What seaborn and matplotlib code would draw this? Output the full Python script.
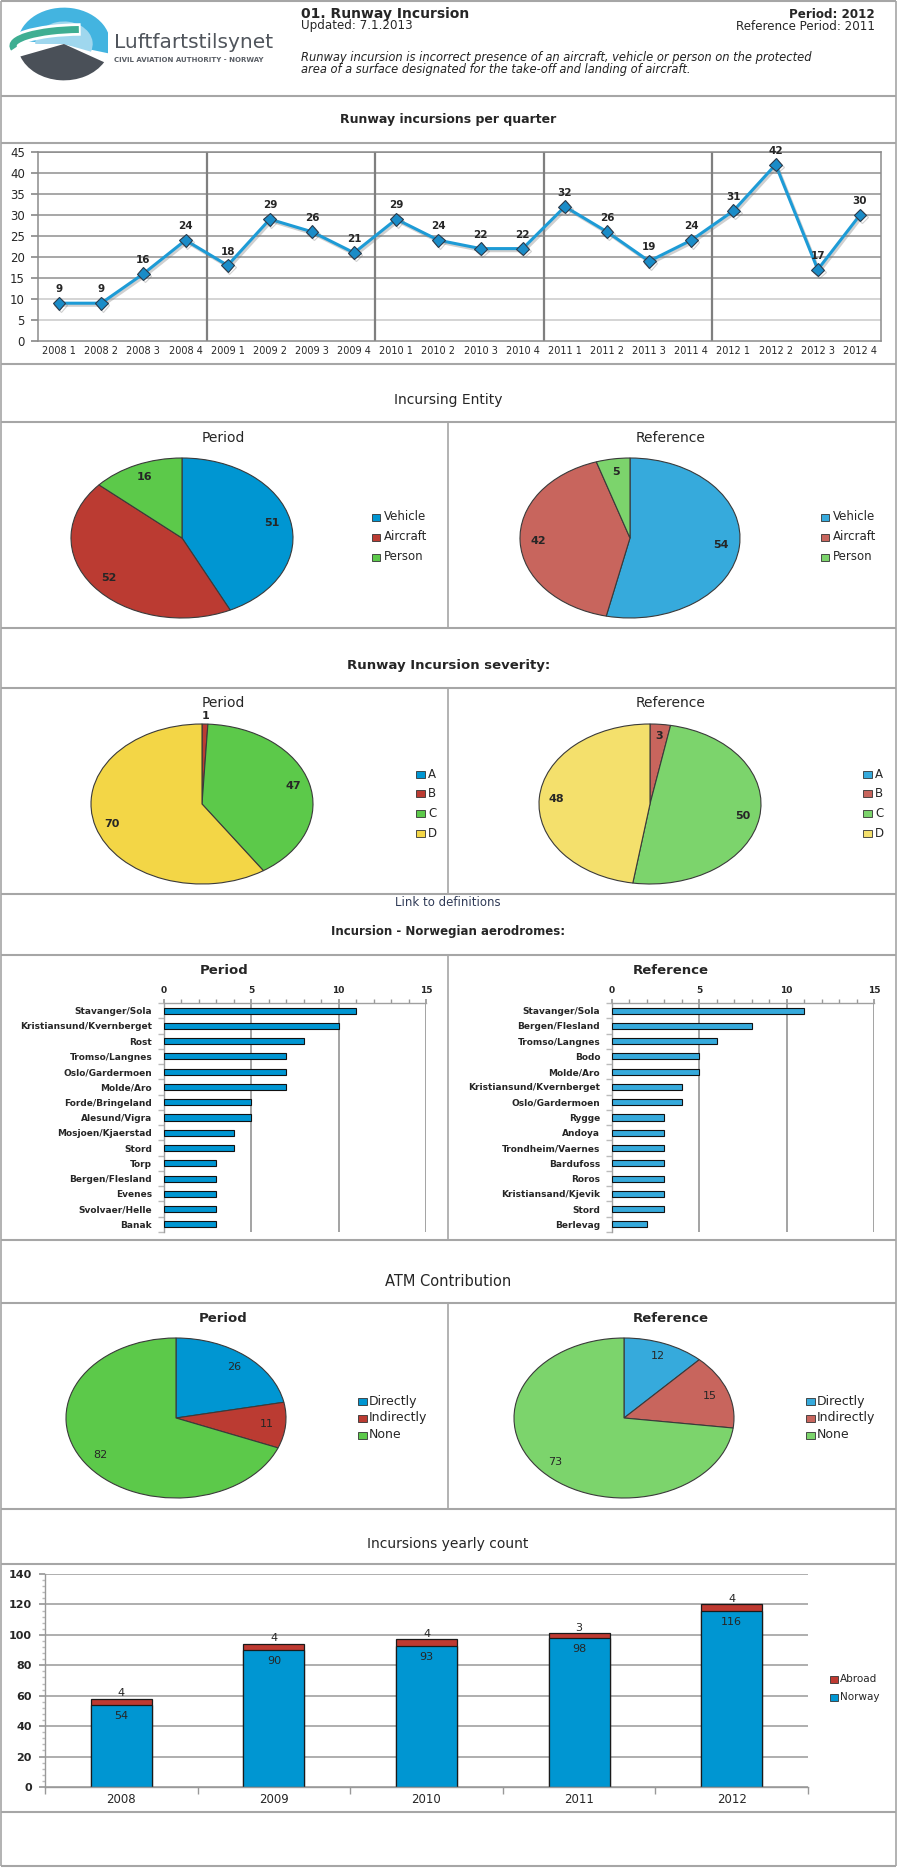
import numpy as np
import matplotlib
matplotlib.use("Agg")
import matplotlib.pyplot as plt
import matplotlib.patches as mpatches
import matplotlib.patheffects as pe
from matplotlib.ticker import MultipleLocator, FixedLocator
import seaborn as sns

sns.set_theme(style="white")
plt.rcParams["font.family"] = ["DejaVu Sans"]

# ------------------------------
# Data
# ------------------------------
quarter_labels = [
    "2008 1", "2008 2", "2008 3", "2008 4",
    "2009 1", "2009 2", "2009 3", "2009 4",
    "2010 1", "2010 2", "2010 3", "2010 4",
    "2011 1", "2011 2", "2011 3", "2011 4",
    "2012 1", "2012 2", "2012 3", "2012 4",
]
quarter_counts = [9, 9, 16, 24, 18, 29, 26, 21, 29, 24, 22, 22, 32, 26, 19, 24, 31, 42, 17, 30]

entity_labels = ["Vehicle", "Aircraft", "Person"]
entity_period = [51, 52, 16]
entity_reference = [54, 42, 5]

severity_labels = ["A", "B", "C", "D"]
severity_period = [0, 1, 47, 70]
severity_reference = [0, 3, 50, 48]

aero_period_names = [
    "Stavanger/Sola", "Kristiansund/Kvernberget", "Rost", "Tromso/Langnes",
    "Oslo/Gardermoen", "Molde/Aro", "Forde/Bringeland", "Alesund/Vigra",
    "Mosjoen/Kjaerstad", "Stord", "Torp", "Bergen/Flesland", "Evenes",
    "Svolvaer/Helle", "Banak",
]
aero_period_counts = [11, 10, 8, 7, 7, 7, 5, 5, 4, 4, 3, 3, 3, 3, 3]

aero_ref_names = [
    "Stavanger/Sola", "Bergen/Flesland", "Tromso/Langnes", "Bodo", "Molde/Aro",
    "Kristiansund/Kvernberget", "Oslo/Gardermoen", "Rygge", "Andoya",
    "Trondheim/Vaernes", "Bardufoss", "Roros", "Kristiansand/Kjevik", "Stord",
    "Berlevag",
]
aero_ref_counts = [11, 8, 6, 5, 5, 4, 4, 3, 3, 3, 3, 3, 3, 3, 2]

atm_labels = ["Directly", "Indirectly", "None"]
atm_period = [26, 11, 82]
atm_reference = [12, 15, 73]

years = ["2008", "2009", "2010", "2011", "2012"]
yearly_norway = [54, 90, 93, 98, 116]
yearly_abroad = [4, 4, 4, 3, 4]

# ------------------------------
# Colours
# ------------------------------
P_BLUE, P_RED, P_GREEN, P_YELLOW = "#0096d2", "#bb3b32", "#5cc94a", "#f3d646"
R_BLUE, R_RED, R_GREEN, R_YELLOW = "#36aadc", "#c8655d", "#7cd46c", "#f4e06c"
BORDER = "#a6a6a6"
LINE_BLUE = "#1d9bd6"

W, H = 897, 1868
fig = plt.figure(figsize=(W / 100, H / 100), dpi=100)


def px_axes(left, top, right, bottom, zorder=2):
    ax = fig.add_axes([left / W, 1 - bottom / H, (right - left) / W, (bottom - top) / H])
    ax.set_zorder(zorder)
    ax.patch.set_alpha(0)
    return ax


# background canvas in pixel coordinates
bg = fig.add_axes([0, 0, 1, 1])
bg.set_xlim(0, W)
bg.set_ylim(H, 0)
bg.axis("off")
bg.set_zorder(0)


def hline(y, x0=1, x1=W - 1):
    bg.plot([x0, x1], [y, y], color=BORDER, lw=1.5, solid_capstyle="butt")


def vline(x, y0, y1):
    bg.plot([x, x], [y0, y1], color=BORDER, lw=1.2, solid_capstyle="butt")


for y in [1, 96, 143, 364, 422, 628, 688, 894, 955, 1240, 1303, 1509, 1564, 1812, 1866]:
    hline(y)
vline(1, 1, 1866)
vline(W - 1, 1, 1866)
for y0, y1 in [(422, 628), (688, 894), (955, 1240), (1303, 1509)]:
    vline(448, y0, y1)


def legend_items(x, y0, dy, labels, colors, fontsize, box=(8, 7), gap=4):
    for i, (lab, col) in enumerate(zip(labels, colors)):
        y = y0 + i * dy
        bg.add_patch(mpatches.Rectangle((x, y - box[1] / 2), box[0], box[1],
                                        facecolor=col, edgecolor="#333333", lw=0.6))
        bg.text(x + box[0] + gap, y, lab, fontsize=fontsize, ha="left", va="center")


def pie_chart(cx, cy, rx, ry, values, colors, weight="bold", dist=0.83):
    ax = px_axes(cx - rx * 1.03, cy - ry * 1.03, cx + rx * 1.03, cy + ry * 1.03)
    wedges, _ = ax.pie(values, colors=colors, startangle=90, counterclock=False,
                       wedgeprops=dict(edgecolor="#3a3a3a", linewidth=0.8))
    ax.set_aspect("auto")
    ax.set_xlim(-1.03, 1.03)
    ax.set_ylim(-1.03, 1.03)
    total = sum(values)
    for w, v in zip(wedges, values):
        if v == 0:
            continue
        mid = np.deg2rad((w.theta1 + w.theta2) / 2)
        # thin slices get their label outside, as in the original
        d = dist if v / total > 0.02 else 1.1
        ax.text(d * np.cos(mid), d * np.sin(mid), str(v), ha="center", va="center",
                fontsize=8, fontweight=weight)
    return ax


# ------------------------------
# Header
# ------------------------------
logo = px_axes(6, 4, 108, 84)
logo.set_xlim(-1.1, 1.1)
logo.set_ylim(-1.1, 1.1)
logo.axis("off")
logo.add_patch(mpatches.Wedge((0.15, 0.0), 1.0, -15, 175, facecolor="#43b4e0", lw=0))
logo.add_patch(mpatches.Wedge((0.15, 0.0), 0.62, -20, 180, facecolor="#9fd7ee", lw=0))
logo.add_patch(mpatches.Wedge((0.15, 0.0), 1.0, 200, 330, facecolor="#4a5058", lw=0))
logo.add_patch(mpatches.Arc((0.55, -0.05), 3.0, 0.9, theta1=95, theta2=185,
                            color="white", lw=9))
logo.add_patch(mpatches.Arc((0.55, -0.05), 3.0, 0.9, theta1=100, theta2=183,
                            color="#3eae92", lw=5))

bg.text(114, 43, "Luftfartstilsynet", fontsize=14.5, color="#50555c", ha="left", va="center")
bg.text(114, 60, "CIVIL AVIATION AUTHORITY - NORWAY", fontsize=5, fontweight="bold",
        color="#5a5f66", ha="left", va="center")

bg.text(301, 14, "01. Runway Incursion", fontsize=10, fontweight="bold", ha="left", va="center")
bg.text(301, 26, "Updated: 7.1.2013", fontsize=8.6, ha="left", va="center")
bg.text(875, 14, "Period: 2012", fontsize=8.6, fontweight="bold", ha="right", va="center")
bg.text(875, 26, "Reference Period: 2011", fontsize=8.6, ha="right", va="center")
bg.text(301, 57, "Runway incursion is incorrect presence of an aircraft, vehicle or person on the protected",
        fontsize=8.3, style="italic", ha="left", va="center", color="#222222")
bg.text(301, 70, "area of a surface designated for the take-off and landing of aircraft.",
        fontsize=8.3, style="italic", ha="left", va="center", color="#222222")

# ------------------------------
# Runway incursions per quarter
# ------------------------------
bg.text(448, 120, "Runway incursions per quarter", fontsize=9, fontweight="bold", ha="center", va="center")

ax = px_axes(38, 152, 881, 341)
x_pos = np.arange(len(quarter_counts))
for v in range(5, 46, 5):
    ax.axhline(v, color="#c9c9c9" if v <= 10 else "#8f8f8f", lw=1.1, zorder=0)
for b in [3.5, 7.5, 11.5, 15.5]:
    ax.axvline(b, color="#7f7f7f", lw=1.6, zorder=0)
sns.lineplot(x=x_pos, y=quarter_counts, ax=ax, color=LINE_BLUE, linewidth=2.2,
             marker="D", markersize=6.5, markerfacecolor="#1a8cc8",
             markeredgecolor="#2b3a4a", markeredgewidth=0.8,
             path_effects=[pe.SimpleLineShadow(offset=(1.2, -1.5), shadow_color="#777777", alpha=0.35),
                           pe.Normal()])
for x, v in zip(x_pos, quarter_counts):
    ax.annotate(str(v), (x, v), xytext=(0, 10), textcoords="offset points",
                ha="center", va="center", fontsize=7.5, fontweight="bold")
ax.set_xlim(-0.5, 19.5)
ax.set_ylim(0, 45)
ax.set_yticks(range(0, 46, 5))
ax.set_xticks(x_pos)
ax.set_xticklabels(quarter_labels)
ax.xaxis.set_minor_locator(FixedLocator(np.arange(-0.5, 20, 2)))
ax.tick_params(axis="x", which="major", length=0, pad=3.5, labelsize=7)
ax.tick_params(axis="x", which="minor", length=4, color="#8c8c8c", direction="out")
ax.tick_params(axis="y", length=5, pad=4.5, labelsize=8.5, color="#8c8c8c", left=True)
ax.set_xlabel("")
ax.set_ylabel("")
for s in ax.spines.values():
    s.set_color("#8c8c8c")
    s.set_linewidth(1.1)

# ------------------------------
# Incursing Entity
# ------------------------------
bg.text(448, 400, "Incursing Entity", fontsize=10, ha="center", va="center")
bg.text(223, 438, "Period", fontsize=10, ha="center", va="center")
bg.text(671, 438, "Reference", fontsize=10, ha="center", va="center")
pie_chart(182, 538, 111, 80, entity_period, [P_BLUE, P_RED, P_GREEN])
pie_chart(630, 538, 110, 80, entity_reference, [R_BLUE, R_RED, R_GREEN])
legend_items(372, 517, 20, entity_labels, [P_BLUE, P_RED, P_GREEN], 8.5)
legend_items(821, 517, 20, entity_labels, [R_BLUE, R_RED, R_GREEN], 8.5)

# ------------------------------
# Severity
# ------------------------------
bg.text(449, 666, "Runway Incursion severity:", fontsize=9.5, fontweight="bold", ha="center", va="center")
bg.text(223, 703, "Period", fontsize=10, ha="center", va="center")
bg.text(671, 703, "Reference", fontsize=10, ha="center", va="center")
pie_chart(202, 804, 111, 80, severity_period, [P_BLUE, P_RED, P_GREEN, P_YELLOW], dist=0.85)
pie_chart(650, 804, 111, 80, severity_reference, [R_BLUE, R_RED, R_GREEN, R_YELLOW], dist=0.85)
legend_items(416, 774, 19.7, severity_labels, [P_BLUE, P_RED, P_GREEN, P_YELLOW], 8.5, box=(9, 7), gap=3)
legend_items(863, 774, 19.7, severity_labels, [R_BLUE, R_RED, R_GREEN, R_YELLOW], 8.5, box=(9, 7), gap=3)
bg.text(448, 902, "Link to definitions", fontsize=8.5, color="#2f3a56", ha="center", va="center")

# ------------------------------
# Norwegian aerodromes
# ------------------------------
bg.text(448, 932, "Incursion - Norwegian aerodromes:", fontsize=8.5, fontweight="bold", ha="center", va="center")
bg.text(224, 970, "Period", fontsize=9.5, fontweight="bold", ha="center", va="center")
bg.text(671, 970, "Reference", fontsize=9.5, fontweight="bold", ha="center", va="center")


def aero_bars(ax, names, counts, color):
    sns.barplot(x=counts, y=names, orient="h", color=color, width=0.4,
                edgecolor="#111111", linewidth=0.8, saturation=1, ax=ax, zorder=3)
    ax.set_xlim(0, 15)
    ax.set_ylim(len(names) - 0.5, -0.5)
    ax.xaxis.tick_top()
    ax.set_xticks([0, 5, 10, 15])
    ax.xaxis.set_minor_locator(MultipleLocator(1))
    for v in [5, 10, 15]:
        ax.axvline(v, color="#8a8a8a", lw=1.1, zorder=1)
    ax.yaxis.set_minor_locator(FixedLocator(np.arange(-0.5, len(names), 1)))
    ax.tick_params(axis="x", which="both", top=True, bottom=False, length=3,
                   color="#999999", pad=3, labelsize=6.5)
    ax.tick_params(axis="y", which="major", length=0, pad=8.5, labelsize=6.5)
    ax.tick_params(axis="y", which="minor", left=True, length=4, color="#bbbbbb")
    for lab in ax.get_xticklabels() + ax.get_yticklabels():
        lab.set_fontweight("bold")
    ax.set_xlabel("")
    ax.set_ylabel("")
    for side in ["right", "bottom"]:
        ax.spines[side].set_visible(False)
    for side in ["left", "top"]:
        ax.spines[side].set_color("#a0a0a0")
        ax.spines[side].set_linewidth(1.0)


aero_bars(px_axes(164, 1003, 426, 1232), aero_period_names, aero_period_counts, P_BLUE)
aero_bars(px_axes(612, 1003, 874, 1232), aero_ref_names, aero_ref_counts, R_BLUE)

# ------------------------------
# ATM Contribution
# ------------------------------
bg.text(448, 1281, "ATM Contribution", fontsize=10.5, ha="center", va="center")
bg.text(223, 1318, "Period", fontsize=9.5, fontweight="bold", ha="center", va="center")
bg.text(671, 1318, "Reference", fontsize=9.5, fontweight="bold", ha="center", va="center")
pie_chart(176, 1418, 110, 80, atm_period, [P_BLUE, P_RED, P_GREEN], weight="normal")
pie_chart(624, 1418, 110, 80, atm_reference, [R_BLUE, R_RED, R_GREEN], weight="normal")
legend_items(358, 1401, 17, atm_labels, [P_BLUE, P_RED, P_GREEN], 9, box=(9, 7), gap=2)
legend_items(806, 1401, 17, atm_labels, [R_BLUE, R_RED, R_GREEN], 9, box=(9, 7), gap=2)

# ------------------------------
# Incursions yearly count
# ------------------------------
bg.text(448, 1544, "Incursions yearly count", fontsize=10, ha="center", va="center")

ax = px_axes(45, 1574, 808, 1787)
ax.set_axisbelow(True)
ax.yaxis.grid(True, color="#a8a8a8", lw=1.3)
totals = [n + a for n, a in zip(yearly_norway, yearly_abroad)]
sns.barplot(x=years, y=totals, color="#be3a31", width=0.4, edgecolor="#1a1a1a",
            linewidth=0.9, saturation=1, ax=ax)
sns.barplot(x=years, y=yearly_norway, color=P_BLUE, width=0.4, edgecolor="#1a1a1a",
            linewidth=0.9, saturation=1, ax=ax)
for i, (n, t) in enumerate(zip(yearly_norway, totals)):
    ax.annotate(str(n), (i, n), xytext=(0, -8), textcoords="offset points",
                ha="center", va="center", fontsize=8)
    ax.annotate(str(t - n), (i, t), xytext=(0, 0.5), textcoords="offset points",
                ha="center", va="bottom", fontsize=8)
ax.set_xlim(-0.5, 4.5)
ax.set_ylim(0, 140)
ax.set_yticks(range(0, 141, 20))
ax.yaxis.set_minor_locator(MultipleLocator(4))
ax.xaxis.set_minor_locator(FixedLocator(np.arange(-0.5, 5, 1)))
ax.tick_params(axis="y", which="major", left=True, length=4, color="#999999", pad=5.5, labelsize=8)
ax.tick_params(axis="y", which="minor", left=True, length=2.5, color="#bbbbbb")
ax.tick_params(axis="x", which="major", length=0, pad=4.5, labelsize=8.5)
ax.tick_params(axis="x", which="minor", bottom=True, length=5, color="#999999")
for lab in ax.get_yticklabels():
    lab.set_fontweight("bold")
ax.set_xlabel("")
ax.set_ylabel("")
for side in ["right", "top"]:
    ax.spines[side].set_visible(False)
for side in ["left", "bottom"]:
    ax.spines[side].set_color("#999999")
    ax.spines[side].set_linewidth(1.0)

legend_items(830, 1679, 18, ["Abroad", "Norway"], ["#be3a31", P_BLUE], 7.5, gap=2)

fig.savefig("out.png", dpi=100)
